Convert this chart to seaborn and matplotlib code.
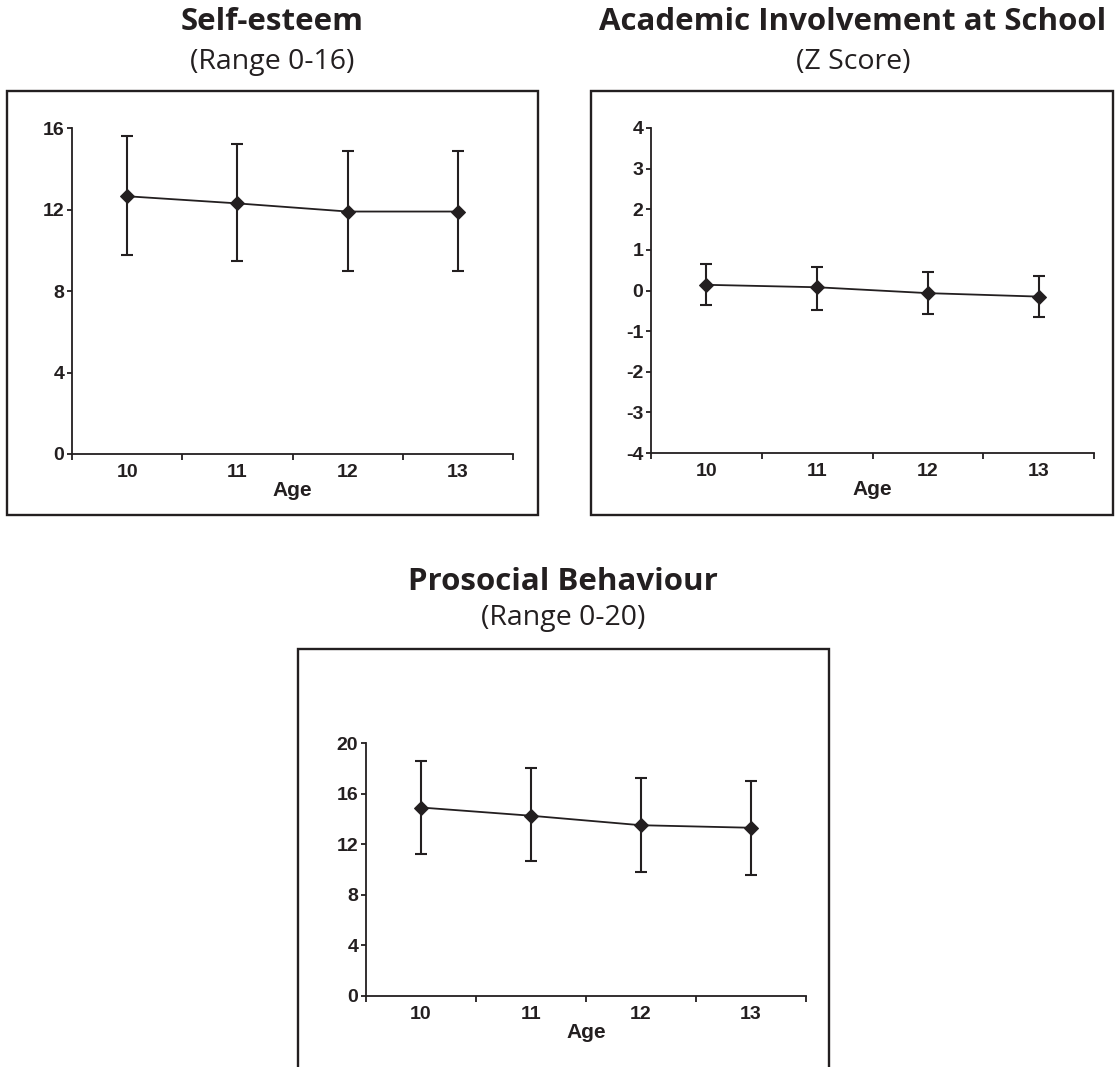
import matplotlib
matplotlib.use("Agg")
import matplotlib.pyplot as plt
import seaborn as sns
import pandas as pd
import numpy as np
from matplotlib.patches import Rectangle

# ---------------- data ----------------
ages = [10, 11, 12, 13]

self_esteem_mean = [12.65, 12.3, 11.9, 11.9]
self_esteem_upper = [15.6, 15.2, 14.85, 14.85]
self_esteem_lower = [9.75, 9.45, 9.0, 9.0]

academic_mean = [0.14, 0.08, -0.065, -0.15]
academic_upper = [0.66, 0.57, 0.46, 0.36]
academic_lower = [-0.36, -0.47, -0.57, -0.655]

prosocial_mean = [14.9, 14.25, 13.5, 13.3]
prosocial_upper = [18.6, 18.0, 17.25, 17.0]
prosocial_lower = [11.2, 10.65, 9.8, 9.6]

titles = ["Self-esteem", "Academic Involvement at School", "Prosocial Behaviour"]
subtitles = ["(Range 0-16)", "(Z Score)", "(Range 0-20)"]
yticks_self = [0, 4, 8, 12, 16]
yticks_acad = [-4, -3, -2, -1, 0, 1, 2, 3, 4]
yticks_pro = [0, 4, 8, 12, 16, 20]
x_label = "Age"

# ---------------- style ----------------
sns.set_style("ticks")
plt.rcParams["font.family"] = ["Liberation Sans", "DejaVu Sans"]
INK = "#231f20"
W, H = 1115, 1067
fig = plt.figure(figsize=(W / 100, H / 100), dpi=100)


def px_axes(x0, y0, x1, y1):
    return fig.add_axes([x0 / W, 1 - y1 / H, (x1 - x0) / W, (y1 - y0) / H])


def frame(x0, y0, x1, y1):
    fig.add_artist(Rectangle((x0 / W, 1 - y1 / H), (x1 - x0) / W, (y1 - y0) / H,
                             transform=fig.transFigure, fill=False, lw=1.7, ec=INK))


def heading(cx, ty, sy, title, sub):
    fig.text(cx / W, 1 - ty / H, title, ha="center", va="center", fontsize=22.5,
             fontweight="bold", family=["Open Sans", "DejaVu Sans"], color=INK)
    fig.text(cx / W, 1 - sy / H, sub, ha="center", va="center", fontsize=20.5,
             family=["Open Sans", "DejaVu Sans"], color=INK)


def panel(ax, mean, lo, hi, yticks):
    mean = np.array(mean)
    df = pd.DataFrame({"Age": ages, "Value": mean})
    ax.errorbar(ages, mean, yerr=[mean - np.array(lo), np.array(hi) - mean],
                fmt="none", ecolor=INK, elinewidth=1.5, capsize=4.5, capthick=1.5, zorder=2)
    sns.lineplot(data=df, x="Age", y="Value", ax=ax, color=INK, lw=1.3,
                 marker="D", markersize=7, markeredgecolor=INK, markerfacecolor=INK, zorder=3)
    ax.set_xlim(9.5, 13.5)
    ax.set_ylim(yticks[0], yticks[-1])
    ax.set_xticks(ages)
    ax.set_xticklabels([str(a) for a in ages])
    ax.set_xticks([9.5, 10.5, 11.5, 12.5, 13.5], minor=True)
    ax.set_yticks(yticks)
    ax.set_yticklabels([str(t) for t in yticks])
    ax.tick_params(axis="x", which="major", bottom=True, length=0, pad=7, labelsize=14, colors=INK)
    ax.tick_params(axis="x", which="minor", bottom=True, length=4, width=1.3, direction="out", color=INK)
    ax.tick_params(axis="y", which="major", left=True, length=3.5, width=1.3, direction="out", pad=2,
                   labelsize=14, colors=INK)
    for lab in ax.get_xticklabels() + ax.get_yticklabels():
        lab.set_fontweight("bold")
    ax.set_xlabel(x_label, fontsize=15, fontweight="bold", color=INK, labelpad=0)
    ax.set_ylabel("")
    for s in ["top", "right"]:
        ax.spines[s].set_visible(False)
    for s in ["left", "bottom"]:
        ax.spines[s].set_linewidth(1.3)
        ax.spines[s].set_color(INK)
    ax.set_facecolor("none")


# Panel 1
frame(7, 91, 538, 515)
heading(272.5, 22, 62, titles[0], subtitles[0])
ax1 = px_axes(72, 128, 513, 454)
panel(ax1, self_esteem_mean, self_esteem_lower, self_esteem_upper, yticks_self)

# Panel 2
frame(591, 91, 1113, 515)
heading(853, 22, 62, titles[1], subtitles[1])
ax2 = px_axes(651, 128, 1094, 453)
panel(ax2, academic_mean, academic_lower, academic_upper, yticks_acad)

# Panel 3
frame(298, 649, 829, 1090)
heading(563, 582, 618, titles[2], subtitles[2])
ax3 = px_axes(366, 743, 806, 996)
panel(ax3, prosocial_mean, prosocial_lower, prosocial_upper, yticks_pro)

fig.savefig("out.png", dpi=100, facecolor="white")
